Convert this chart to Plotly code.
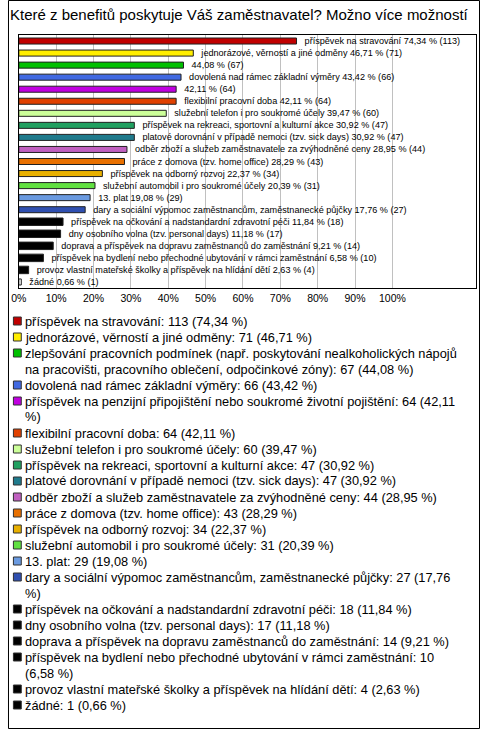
import plotly.graph_objects as go

# ------------------------------------------------------------
# Data
# ------------------------------------------------------------

categories = [
    "příspěvek na stravování",
    "jednorázové, věrností a jiné odměny",
    "zlepšování pracovních podmínek (např. poskytování nealkoholických nápojů na pracovišti, pracovního oblečení, odpočinkové zóny)",
    "dovolená nad rámec základní výměry",
    "příspěvek na penzijní připojištění nebo soukromé životní pojištění",
    "flexibilní pracovní doba",
    "služební telefon i pro soukromé účely",
    "příspěvek na rekreaci, sportovní a kulturní akce",
    "platové dorovnání v případě nemoci (tzv. sick days)",
    "odběr zboží a služeb zaměstnavatele za zvýhodněné ceny",
    "práce z domova (tzv. home office)",
    "příspěvek na odborný rozvoj",
    "služební automobil i pro soukromé účely",
    "13. plat",
    "dary a sociální výpomoc zaměstnancům, zaměstnanecké půjčky",
    "příspěvek na očkování a nadstandardní zdravotní péči",
    "dny osobního volna (tzv. personal days)",
    "doprava a příspěvek na dopravu zaměstnanců do zaměstnání",
    "příspěvek na bydlení nebo přechodné ubytování v rámci zaměstnání",
    "provoz vlastní mateřské školky a příspěvek na hlídání dětí",
    "žádné",
]

counts = [113, 71, 67, 66, 64, 64, 60, 47, 47, 44, 43, 34, 31, 29, 27, 18, 17, 14, 10, 4, 1]

percents = [74.34, 46.71, 44.08, 43.42, 42.11, 42.11, 39.47, 30.92, 30.92, 28.95,
            28.29, 22.37, 20.39, 19.08, 17.76, 11.84, 11.18, 9.21, 6.58, 2.63, 0.66]

# names shown next to the bars (the two long ones are left out)
bar_names = [c for c in categories]
bar_names[2] = ""
bar_names[4] = ""

colors = [
    "#C00000", "#FFEE00", "#00C000", "#4169E1", "#C000E0", "#E04000",
    "#CCFF99", "#20A060", "#1F7A8C", "#C060C0", "#E87000", "#E8B000",
    "#60E040", "#6A9AE0", "#2F4FB0", "#000000", "#000000", "#000000",
    "#000000", "#000000", "#FFFFFF",
]

# legend keys: same as bars, except "žádné" which is black there
legend_colors = colors[:-1] + ["#000000"]

tick_values = [0, 10, 20, 30, 40, 50, 60, 70, 80, 90, 100]
tick_labels = [f"{v}%" for v in tick_values]

# where the legend text wraps onto a second line
legend_breaks = {2: "na pracovišti", 4: "%)", 14: "%)", 18: "(6,58 %)"}

title_text = "Které z benefitů poskytuje Váš zaměstnavatel? Možno více možností"


def cz(v):
    return f"{v:.2f}".replace(".", ",")


# ------------------------------------------------------------
# Figure
# ------------------------------------------------------------

W, H = 480, 729
FONT = "Liberation Sans, Arial, sans-serif"


def px_x(x):
    return x / W


def px_y(y):
    return 1 - y / H


bar_text = ["\u00a0\u00a0" + f"{n} {cz(p)} % ({c})".strip()
            for n, p, c in zip(bar_names, percents, counts)]
bar_widths = [0.62 if col == "#000000" else 0.5 for col in colors]

fig = go.Figure()

fig.add_trace(
    go.Bar(
        x=percents,
        y=categories,
        orientation="h",
        width=bar_widths,
        marker=dict(color=colors, line=dict(color="#202020", width=1)),
        text=bar_text,
        textposition="outside",
        textfont=dict(size=9.1, color="#000000", family=FONT),
        constraintext="none",
        cliponaxis=False,
        hoverinfo="skip",
    )
)

fig.update_layout(
    width=W,
    height=H,
    margin=dict(l=0, r=0, t=0, b=0),
    paper_bgcolor="#FFFFFF",
    plot_bgcolor="#FFFFFF",
    showlegend=False,
    font=dict(family=FONT, color="#000000"),
    title=dict(
        text=title_text,
        x=px_x(10),
        xanchor="left",
        y=px_y(15),
        yanchor="middle",
        font=dict(size=15, color="#000000", family=FONT),
    ),
    xaxis=dict(
        domain=[px_x(11), px_x(476)],
        range=[0, 122.4],
        tickvals=tick_values,
        ticktext=tick_labels,
        tickfont=dict(size=10.5),
        showgrid=True,
        gridcolor="#C0C0C0",
        gridwidth=1,
        zeroline=False,
        showline=True,
        mirror=True,
        linecolor="#000000",
        linewidth=1,
        ticks="",
    ),
    yaxis=dict(
        domain=[px_y(288), px_y(35)],
        categoryorder="array",
        categoryarray=categories,
        autorange="reversed",
        showticklabels=False,
        showgrid=False,
        zeroline=False,
        showline=True,
        mirror=True,
        linecolor="#000000",
        linewidth=1,
        ticks="",
    ),
)

# ------------------------------------------------------------
# Legend drawn by hand (plotly's own legend rows are too tall)
# ------------------------------------------------------------

shapes = []
annotations = []
line_y = 321
step = 16

for i, (cat, c, p) in enumerate(zip(categories, counts, percents)):
    text = f"{cat}: {c} ({cz(p)} %)"
    if i in legend_breaks:
        k = text.rfind(legend_breaks[i])
        lines = [text[:k].rstrip(), text[k:]]
    else:
        lines = [text]

    shapes.append(
        dict(
            type="rect",
            xref="paper",
            yref="paper",
            x0=px_x(5.5),
            x1=px_x(13.5),
            y0=px_y(line_y - 4),
            y1=px_y(line_y + 4),
            fillcolor=legend_colors[i],
            line=dict(color="#303030", width=1),
        )
    )

    for ln in lines:
        annotations.append(
            dict(
                text=ln,
                xref="paper",
                yref="paper",
                x=px_x(15),
                y=px_y(line_y),
                xanchor="left",
                yanchor="middle",
                showarrow=False,
                font=dict(size=12.8, color="#000000", family=FONT),
            )
        )
        line_y += step

# outer frame of the whole picture
shapes.append(
    dict(
        type="rect",
        xref="paper",
        yref="paper",
        x0=px_x(0.5),
        x1=px_x(W - 0.5),
        y0=px_y(H - 0.5),
        y1=px_y(0.5),
        line=dict(color="#000000", width=1),
    )
)

fig.update_layout(shapes=shapes, annotations=annotations)

# drop the browser's default body margin so the chart sits at 0,0
fig.write_html(
    "out.html",
    config={"displayModeBar": False},
    post_script="document.body.style.margin='0';document.body.style.overflow='hidden';",
)
